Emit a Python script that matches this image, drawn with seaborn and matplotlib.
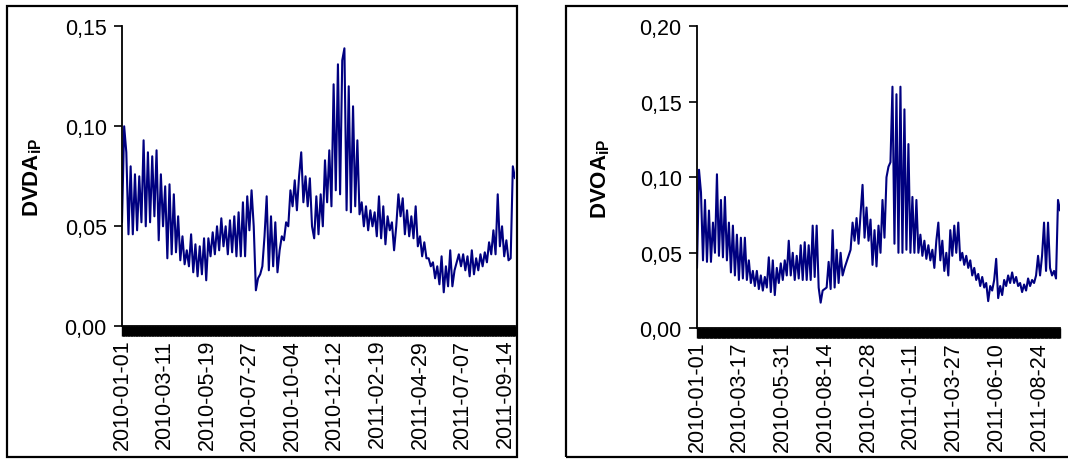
import numpy as np
import pandas as pd
import matplotlib
matplotlib.use("Agg")
import matplotlib.pyplot as plt
import matplotlib.dates as mdates
from matplotlib.patches import Rectangle
from matplotlib.ticker import FixedLocator, FuncFormatter
import seaborn as sns

# ---------------- data (one value every 3.5 days) ----------------
start_date = "2010-01-01"
end_date = "2011-09-30"

dvda = [0.052, 0.100, 0.087, 0.046, 0.080, 0.046, 0.076, 0.048, 0.075, 0.052,
        0.093, 0.050, 0.087, 0.052, 0.085, 0.055, 0.088, 0.043, 0.076, 0.050,
        0.070, 0.034, 0.071, 0.036, 0.066, 0.037, 0.055, 0.033, 0.045, 0.031,
        0.038, 0.030, 0.046, 0.027, 0.041, 0.025, 0.040, 0.026, 0.044, 0.023,
        0.044, 0.035, 0.047, 0.036, 0.050, 0.038, 0.054, 0.040, 0.050, 0.036,
        0.053, 0.037, 0.055, 0.035, 0.057, 0.035, 0.062, 0.035, 0.065, 0.048,
        0.068, 0.050, 0.018, 0.024, 0.026, 0.030, 0.045, 0.065, 0.028, 0.055,
        0.030, 0.052, 0.027, 0.038, 0.045, 0.043, 0.052, 0.050, 0.068, 0.060,
        0.073, 0.058, 0.075, 0.087, 0.062, 0.075, 0.060, 0.074, 0.050, 0.044,
        0.065, 0.046, 0.066, 0.050, 0.083, 0.062, 0.088, 0.060, 0.121, 0.068,
        0.131, 0.066, 0.133, 0.139, 0.058, 0.120, 0.057, 0.110, 0.060, 0.093,
        0.056, 0.062, 0.050, 0.060, 0.048, 0.058, 0.050, 0.057, 0.045, 0.065,
        0.044, 0.060, 0.041, 0.055, 0.048, 0.052, 0.038, 0.050, 0.066, 0.055,
        0.064, 0.046, 0.058, 0.045, 0.055, 0.044, 0.060, 0.040, 0.045, 0.035,
        0.042, 0.034, 0.034, 0.030, 0.032, 0.024, 0.030, 0.021, 0.035, 0.017,
        0.030, 0.020, 0.038, 0.020, 0.028, 0.032, 0.036, 0.030, 0.036, 0.028,
        0.035, 0.025, 0.038, 0.026, 0.034, 0.028, 0.036, 0.030, 0.037, 0.032,
        0.042, 0.036, 0.048, 0.036, 0.066, 0.040, 0.050, 0.035, 0.043, 0.033,
        0.034, 0.080, 0.074]

dvoa = [0.040, 0.105, 0.090, 0.045, 0.085, 0.044, 0.078, 0.044, 0.070, 0.050,
        0.102, 0.048, 0.085, 0.047, 0.087, 0.045, 0.070, 0.037, 0.068, 0.035,
        0.062, 0.032, 0.060, 0.033, 0.060, 0.032, 0.045, 0.030, 0.038, 0.028,
        0.038, 0.026, 0.035, 0.025, 0.034, 0.027, 0.047, 0.024, 0.045, 0.022,
        0.040, 0.030, 0.043, 0.032, 0.045, 0.035, 0.058, 0.035, 0.050, 0.032,
        0.048, 0.033, 0.055, 0.032, 0.057, 0.032, 0.055, 0.032, 0.068, 0.034,
        0.068, 0.027, 0.017, 0.025, 0.026, 0.027, 0.044, 0.026, 0.065, 0.027,
        0.052, 0.030, 0.050, 0.035, 0.040, 0.044, 0.048, 0.052, 0.070, 0.058,
        0.073, 0.056, 0.075, 0.095, 0.060, 0.080, 0.058, 0.072, 0.042, 0.065,
        0.041, 0.068, 0.050, 0.085, 0.060, 0.100, 0.107, 0.110, 0.160, 0.056,
        0.155, 0.050, 0.160, 0.050, 0.145, 0.052, 0.122, 0.050, 0.087, 0.050,
        0.085, 0.050, 0.062, 0.048, 0.058, 0.046, 0.055, 0.045, 0.052, 0.040,
        0.058, 0.070, 0.045, 0.058, 0.038, 0.050, 0.035, 0.065, 0.048, 0.068,
        0.050, 0.070, 0.045, 0.050, 0.042, 0.048, 0.040, 0.045, 0.035, 0.040,
        0.032, 0.036, 0.028, 0.034, 0.027, 0.030, 0.018, 0.028, 0.025, 0.032,
        0.046, 0.020, 0.028, 0.022, 0.032, 0.028, 0.035, 0.030, 0.037, 0.030,
        0.034, 0.028, 0.030, 0.024, 0.029, 0.025, 0.033, 0.028, 0.032, 0.030,
        0.035, 0.048, 0.035, 0.048, 0.070, 0.038, 0.070, 0.040, 0.035, 0.038,
        0.033, 0.085, 0.078]

left_ticklabels = ["2010-01-01", "2010-03-11", "2010-05-19", "2010-07-27", "2010-10-04",
                   "2010-12-12", "2011-02-19", "2011-04-29", "2011-07-07", "2011-09-14"]
right_ticklabels = ["2010-01-01", "2010-03-17", "2010-05-31", "2010-08-14", "2010-10-28",
                    "2011-01-11", "2011-03-27", "2011-06-10", "2011-08-24"]

left_yticks = [0.00, 0.05, 0.10, 0.15]
right_yticks = [0.00, 0.05, 0.10, 0.15, 0.20]

# ---------------- style ----------------
sns.set_theme(style="white")
plt.rcParams["font.family"] = ["Liberation Sans", "DejaVu Sans"]
plt.rcParams["mathtext.fontset"] = "custom"
plt.rcParams["mathtext.rm"] = "Liberation Sans"
plt.rcParams["mathtext.bf"] = "Liberation Sans:bold"
plt.rcParams["text.color"] = "black"
plt.rcParams["axes.labelcolor"] = "black"
plt.rcParams["xtick.color"] = "black"
plt.rcParams["ytick.color"] = "black"

LINE = "#000080"
W, H = 1068, 460
FS = 15.5

fig = plt.figure(figsize=(W / 100, H / 100), dpi=100)
fig.patch.set_facecolor("white")

# panel frames
fig.patches.append(Rectangle((7 / W, 2 / H), 510 / W, 451 / H, fill=False,
                             edgecolor="black", lw=1.6, transform=fig.transFigure))
fig.patches.append(Rectangle((566 / W, 2 / H), 600 / W, 451 / H, fill=False,
                             edgecolor="black", lw=1.6, transform=fig.transFigure))

ax1 = fig.add_axes([122 / W, (H - 327.3) / H, 393 / W, 300 / H])
ax2 = fig.add_axes([697 / W, (H - 329.3) / H, 363 / W, 302 / H])


def comma_fmt(v, pos):
    return f"{v:.2f}".replace(".", ",")


def draw(ax, values, ticklabels, yticks, ylabel, labelx):
    dates = pd.date_range(start_date, periods=len(values), freq="84h")
    df = pd.DataFrame({"date": dates, "value": values})
    sns.lineplot(data=df, x="date", y="value", ax=ax, color=LINE, lw=1.5)
    ax.set_xlim(pd.Timestamp(start_date), pd.Timestamp(end_date))
    ax.set_ylim(yticks[0], yticks[-1])
    ax.set_facecolor("white")
    for s in ["top", "right"]:
        ax.spines[s].set_visible(False)
    ax.spines["left"].set_linewidth(1.3)
    ax.spines["bottom"].set_linewidth(1.3)
    ax.spines["left"].set_color("black")
    ax.spines["bottom"].set_color("black")

    ax.yaxis.set_major_locator(FixedLocator(yticks))
    ax.yaxis.set_major_formatter(FuncFormatter(comma_fmt))
    ax.tick_params(axis="y", which="major", direction="out", length=6, width=1.2,
                   color="black", labelcolor="black", labelsize=FS, pad=5, left=True)

    tick_dates = [mdates.date2num(pd.Timestamp(t)) for t in ticklabels]
    ax.xaxis.set_major_locator(FixedLocator(tick_dates))
    ax.set_xticklabels(ticklabels, rotation=90, fontsize=FS, color="black")
    ax.xaxis.set_minor_locator(mdates.DayLocator())
    ax.tick_params(axis="x", which="both", direction="out", length=7, width=1.0,
                   color="black", bottom=True, pad=2)
    ax.tick_params(axis="x", which="major", labelsize=FS, labelcolor="black")

    ax.set_xlabel("")
    ax.set_ylabel(ylabel, fontsize=16, fontweight="bold", color="black")
    ax.yaxis.set_label_coords(labelx, 0.5)


draw(ax1, dvda, left_ticklabels, left_yticks, r"DVDA$_{\mathbf{iP}}$", -0.198)
draw(ax2, dvoa, right_ticklabels, right_yticks, r"DVOA$_{\mathbf{iP}}$", -0.234)

fig.savefig("out.png", dpi=100, facecolor="white")
